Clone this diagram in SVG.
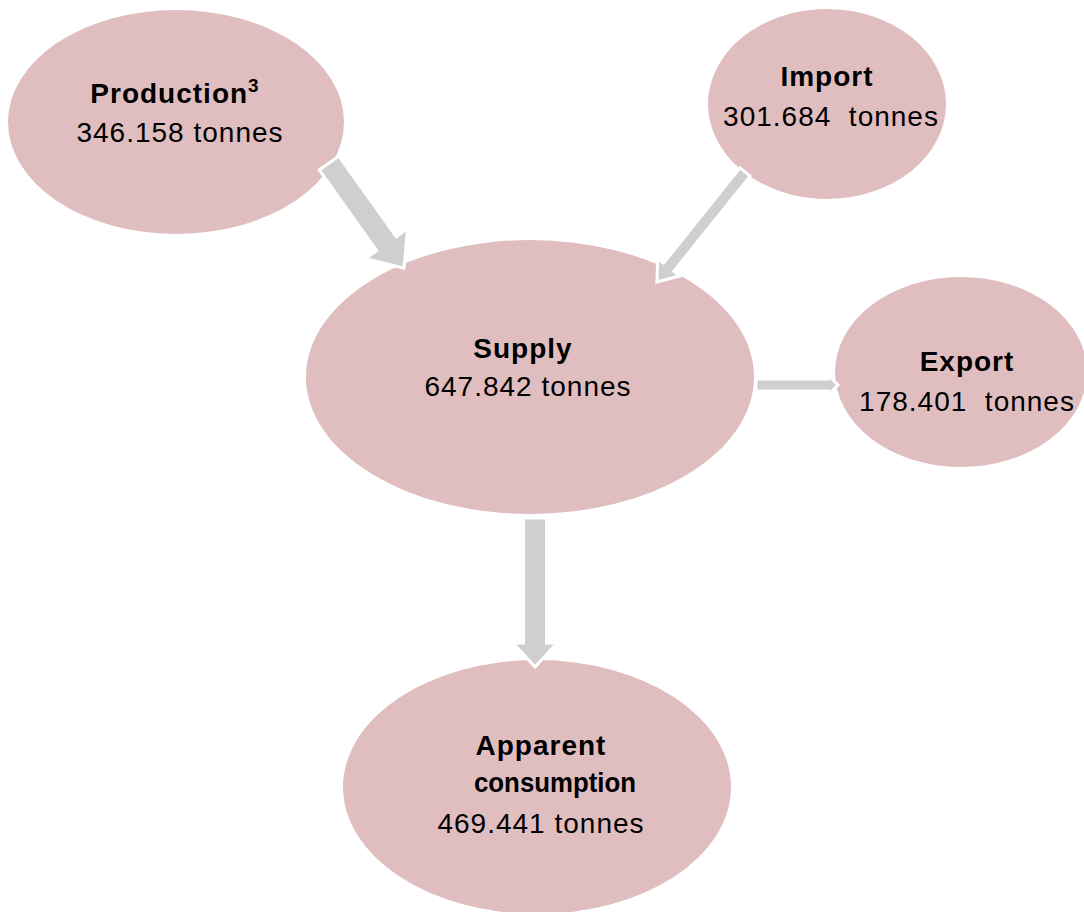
<svg xmlns="http://www.w3.org/2000/svg" width="1084" height="912" viewBox="0 0 1084 912">
<style>
.node{fill:#e0bec0}
.arr{fill:#d0cfd0;stroke:#ffffff;stroke-width:3;stroke-linejoin:miter}
.b{font-family:"Liberation Sans",Arial,sans-serif;font-weight:bold;font-size:28px;fill:#000;text-anchor:middle;letter-spacing:1px}
.n{font-family:"Liberation Sans",Arial,sans-serif;font-size:28px;fill:#000;text-anchor:middle;letter-spacing:1px;white-space:pre}
</style>
<rect width="1084" height="912" fill="#fff"/>
<g id="production"><ellipse class="node" cx="176" cy="122" rx="168" ry="112"/>
<text class="b" x="175" y="103">Production<tspan font-size="19" dy="-11">3</tspan></text>
<text class="n" x="180" y="142">346.158 tonnes</text></g>
<g id="import"><ellipse class="node" cx="827" cy="104" rx="119" ry="95"/>
<text class="b" x="827" y="86">Import</text>
<text class="n" x="831" y="126" xml:space="preserve">301.684  tonnes</text></g>
<g id="supply"><ellipse class="node" cx="530" cy="377" rx="224" ry="137"/>
<text class="b" x="523" y="358">Supply</text>
<text class="n" x="528" y="396">647.842 tonnes</text></g>
<g id="export"><ellipse class="node" cx="961" cy="372" rx="126" ry="95"/>
<text class="b" x="967" y="371">Export</text>
<text class="n" x="967" y="411" xml:space="preserve">178.401  tonnes</text></g>
<g id="consumption"><ellipse class="node" cx="537" cy="787" rx="194" ry="127"/>
<text class="b" x="541" y="755">Apparent</text>
<text class="b" x="555" y="792" style="letter-spacing:0" textLength="162" lengthAdjust="spacingAndGlyphs">consumption</text>
<text class="n" x="541" y="833">469.441 tonnes</text></g>
<g id="connectors">
<polygon class="arr" transform="translate(329,163) rotate(54.5)" points="0,-12 99,-12 99,-26 129,0 99,26 99,12 0,12"/>
<polygon class="arr" transform="translate(745,172) rotate(128.7)" points="0,-6.5 122,-6.5 122,-14 141,0 122,14 122,6.5 0,6.5"/>
<polygon class="arr" transform="translate(756,385)" points="0,-6 72,-6 72,-10 82,0 72,10 72,6 0,6"/>
<polygon class="arr" transform="translate(535,518) rotate(90)" points="0,-11.5 125,-11.5 125,-22 149,0 125,22 125,11.5 0,11.5"/>
</g>
</svg>
